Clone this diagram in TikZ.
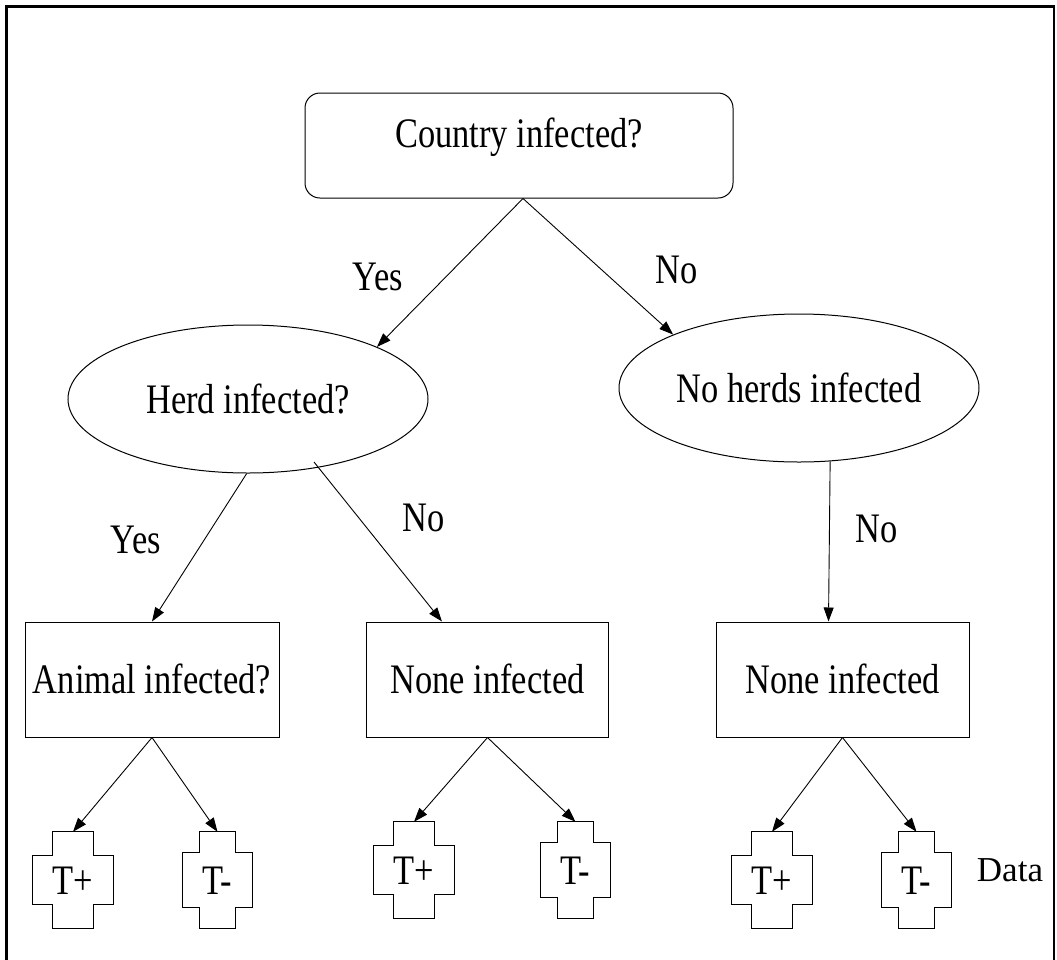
\documentclass[tikz,border=0pt]{standalone}
\usepackage{fontspec}
\setmainfont[FakeStretch=0.82]{Liberation Serif}
\newfontfamily\datafont{Liberation Serif}
\usetikzlibrary{arrows.meta,shapes.geometric,calc}
\newcommand\crossoutline[3]{%
  \draw[crossline] ([xshift=#2]#1.north west) -- ([xshift=-#2]#1.north east)
    -- ([xshift=-#2,yshift=-#3]#1.north east) -- ([yshift=-#3]#1.north east)
    -- ([yshift=#3]#1.south east) -- ([xshift=-#2,yshift=#3]#1.south east)
    -- ([xshift=-#2]#1.south east) -- ([xshift=#2]#1.south west)
    -- ([xshift=#2,yshift=#3]#1.south west) -- ([yshift=#3]#1.south west)
    -- ([yshift=-#3]#1.north west) -- ([xshift=#2,yshift=-#3]#1.north west) -- cycle;}
\tikzset{
  txt/.style={font=\fontsize{42}{44}\selectfont, inner sep=0pt, text height=28pt, text depth=0pt},
  qbox/.style={txt, draw, line width=1pt, rounded corners=15pt, minimum width=428pt, minimum height=105pt, text depth=25pt},
  oval/.style={txt, draw, line width=1pt, ellipse, minimum width=360pt, minimum height=148pt},
  leaf/.style={txt, draw, line width=1pt, rectangle, minimum height=115pt},
  plusbox/.style={txt, minimum width=80pt, minimum height=96pt},
  minusbox/.style={txt, minimum width=70pt, minimum height=96pt},
  crossline/.style={line width=1pt},
  lbl/.style={txt},
  arr/.style={-{Triangle[length=14pt,width=10pt]}, line width=0.9pt},
}
\begin{document}
\begin{tikzpicture}[x=1pt,y=-1pt]
\useasboundingbox (0,0) rectangle (1057,959);
\draw[line width=2.5pt] (6.5,970) -- (6.5,6.5) -- (1054,6.5) -- (1054,970);

\node[qbox] (country) at (519,145.5) {Country infected?};
\node[oval] (herd) at (248,399) {Herd infected?};
\node[oval] (noherd) at (799,388) {No herds infected};
\node[leaf, minimum width=254pt] (animal) at (152,679.5) {Animal infected?};
\node[leaf, minimum width=242pt] (none1) at (487.5,679.5) {None infected};
\node[leaf, minimum width=253pt] (none2) at (842.5,679.5) {None infected};

\node[plusbox] (c1) at (73,880) {T+};
\node[minusbox] (c2) at (217.5,880) {T-};
\node[plusbox] (c3) at (414,870) {T+};
\node[minusbox] (c4) at (575.5,870) {T-};
\node[plusbox] (c5) at (772,880) {T+};
\node[minusbox] (c6) at (916.5,880) {T-};
\crossoutline{c1}{20pt}{24pt}
\crossoutline{c2}{17.5pt}{21pt}
\crossoutline{c3}{20pt}{24pt}
\crossoutline{c4}{17.5pt}{21pt}
\crossoutline{c5}{20pt}{24pt}
\crossoutline{c6}{17.5pt}{21pt}

\node[lbl] (yes1) at (378,276) {Yes};
\node[lbl] (no1) at (677,269) {No};
\node[lbl] (yes2) at (136,539) {Yes};
\node[lbl] (no2) at (424,517.5) {No};
\node[lbl] (no3) at (877,528) {No};
\node[lbl, font=\datafont\fontsize{35}{37}\selectfont, text height=23pt] (data) at (1010,869.5) {Data};

\coordinate (ctop) at ([xshift=4pt]country.south);
\draw[arr] (ctop) -- (herd.22.6);
\draw[arr] (ctop) -- (noherd.157.4);
\draw[arr] (herd.-91) -- (animal.north);
\coordinate (herdno) at ([xshift=66pt,yshift=-63pt]herd.center);
\coordinate (none1in) at ([xshift=76pt]none1.north west);
\draw[arr] (herdno) -- (none1in);
\coordinate (none2in) at ([xshift=113pt]none2.north west);
\draw[arr] (noherd.-67.7) -- (none2in);
\draw[arr] (animal.south) -- (c1.north);
\draw[arr] (animal.south) -- (c2.north);
\draw[arr] (none1.south) -- (c3.north);
\draw[arr] (none1.south) -- (c4.north);
\draw[arr] (none2.south) -- (c5.north);
\draw[arr] (none2.south) -- (c6.north);
\end{tikzpicture}
\end{document}
